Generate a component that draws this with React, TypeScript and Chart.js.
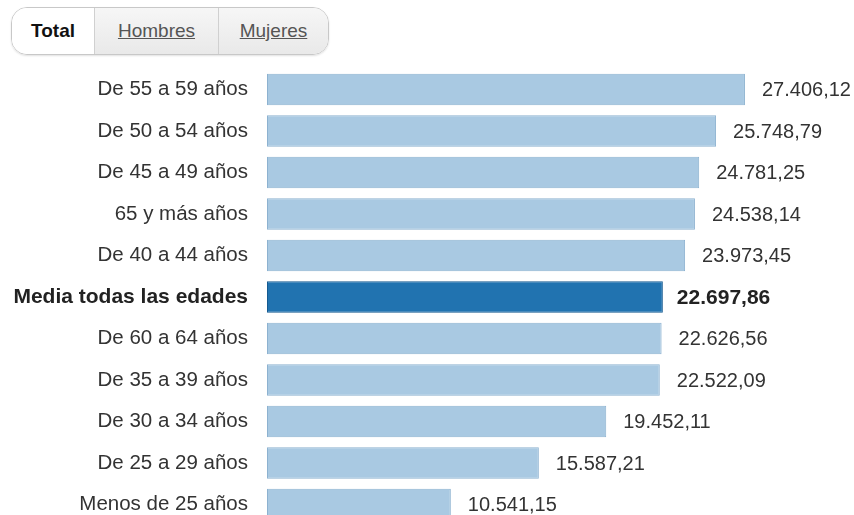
import React, { useEffect, useRef } from "react";
import { Chart, registerables } from "chart.js";

Chart.register(...registerables);

const categories = [
  "De 55 a 59 años",
  "De 50 a 54 años",
  "De 45 a 49 años",
  "65 y más años",
  "De 40 a 44 años",
  "Media todas las edades",
  "De 60 a 64 años",
  "De 35 a 39 años",
  "De 30 a 34 años",
  "De 25 a 29 años",
  "Menos de 25 años",
];

const salaries = [
  27406.12, 25748.79, 24781.25, 24538.14, 23973.45, 22697.86, 22626.56,
  22522.09, 19452.11, 15587.21, 10541.15,
];

const highlightIndex = 5;
const tabs = ["Total", "Hombres", "Mujeres"];

const FONT = "'Liberation Sans', Arial, sans-serif";

function formatEs(v: number): string {
  const [i, d] = v.toFixed(2).split(".");
  const grouped = i.replace(/\B(?=(\d{3})+(?!\d))/g, ".");
  return grouped + "," + d;
}

const valueLabels = {
  id: "valueLabels",
  afterDatasetsDraw(chart: any) {
    const ctx = chart.ctx;
    const meta = chart.getDatasetMeta(0);
    ctx.save();
    ctx.textBaseline = "middle";
    ctx.textAlign = "left";
    meta.data.forEach((bar: any, i: number) => {
      const bold = i === highlightIndex;
      ctx.font = bold ? `bold 21px ${FONT}` : `20px ${FONT}`;
      ctx.fillStyle = bold ? "#222" : "#333";
      ctx.fillText(formatEs(salaries[i]), bar.x + (bold ? 14 : 17), bar.y + 1);
    });
    ctx.restore();
  },
};

function ChartView() {
  const ref = useRef<HTMLCanvasElement>(null);
  useEffect(() => {
    if (!ref.current) return;
    const chart = new Chart(ref.current, {
      type: "bar",
      data: {
        labels: categories,
        datasets: [
          {
            data: salaries,
            backgroundColor: salaries.map((_, i) =>
              i === highlightIndex ? "#2173b0" : "#a9c9e2"
            ),
            borderColor: salaries.map((_, i) =>
              i === highlightIndex ? "#155a90" : "#8db2d0"
            ),
            borderWidth: 1,
            borderSkipped: false,
            barPercentage: 0.76,
            categoryPercentage: 1,
          },
        ],
      },
      options: {
        indexAxis: "y",
        animation: false,
        responsive: false,
        devicePixelRatio: 1,
        layout: { padding: { top: 68.75, bottom: 14.75, left: 0, right: 63.8 } },
        plugins: { legend: { display: false }, tooltip: { enabled: false } },
        scales: {
          x: { display: false, min: 0, max: 30000 },
          y: {
            afterFit(scale: any) {
              scale.width = 267;
              scale.paddingTop = 0;
              scale.paddingBottom = 0;
            },
            border: { display: false },
            grid: { display: false, drawTicks: false },
            ticks: {
              padding: 19,
              color: (c: any) => (c.index === highlightIndex ? "#222" : "#333"),
              font: (c: any) => ({
                family: FONT,
                size: c.index === highlightIndex ? 21 : 20.5,
                weight: c.index === highlightIndex ? "bold" : "normal",
              }),
            },
          },
        },
      },
      plugins: [valueLabels],
    });
    return () => chart.destroy();
  }, []);
  return (
    <canvas
      ref={ref}
      width={854}
      height={540}
      style={{ position: "absolute", left: 0, top: 0, width: 854, height: 540 }}
    />
  );
}

export default function App() {
  const widths = [82, 124, 110];
  return (
    <div
      style={{
        position: "fixed",
        left: 0,
        top: 0,
        width: 854,
        height: 515,
        overflow: "hidden",
        background: "#fff",
      }}
    >
      <ChartView />
      <div
        style={{
          position: "absolute",
          left: 11,
          top: 7,
          height: 46,
          display: "flex",
          border: "1px solid #c8c8c8",
          borderRadius: 16,
          overflow: "hidden",
          boxShadow: "0 1px 2px rgba(0,0,0,0.12)",
          fontFamily: FONT,
          fontSize: 19,
        }}
      >
        {tabs.map((t, i) => (
          <div
            key={t}
            style={{
              width: widths[i],
              display: "flex",
              alignItems: "center",
              justifyContent: "center",
              borderLeft: i > 0 ? "1px solid #d0d0d0" : "none",
              background:
                i === 0
                  ? "#ffffff"
                  : "linear-gradient(#f6f6f6, #e9e9e9)",
              color: i === 0 ? "#111" : "#555",
              fontWeight: i === 0 ? "bold" : "normal",
              textDecoration: i === 0 ? "none" : "underline",
              boxSizing: "border-box",
            }}
          >
            {t}
          </div>
        ))}
      </div>
    </div>
  );
}
